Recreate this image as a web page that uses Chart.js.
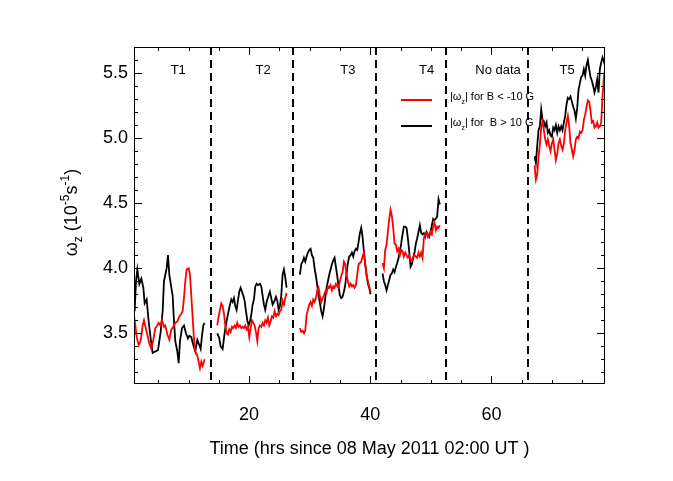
<!DOCTYPE html>
<html>
<head>
<meta charset="utf-8">
<script src="https://cdn.jsdelivr.net/npm/chart.js@4.4.0/dist/chart.umd.min.js"></script>
<style>
  html, body { margin: 0; padding: 0; background: #fff; }
</style>
</head>
<body>
<canvas id="vortChart" width="673" height="481"></canvas>
<script>
// sample times (hours since 08 May 2011 02:00 UT), one array per interval
var hoursT1Black = [1.11, 1.33, 1.55, 1.88, 2.21, 2.54, 2.76, 3.09, 3.42, 3.75, 4.08, 4.52, 4.96, 5.40, 5.73, 5.95, 6.17, 6.39, 6.61, 6.83,
  7.16, 7.38, 7.60, 7.82, 8.15, 8.37, 8.59, 8.92, 9.25, 9.58, 9.91, 10.13, 10.46, 10.79, 11.12, 11.45, 11.78, 12.00, 12.22, 12.44, 12.66];
var hoursT1Red = [1.00, 1.22, 1.44, 1.77, 2.10, 2.43, 2.65, 2.98, 3.20, 3.53, 3.86, 4.19, 4.52, 4.85, 5.07, 5.40, 5.62, 5.95, 6.17, 6.50,
  6.83, 7.16, 7.49, 7.82, 8.15, 8.48, 8.81, 9.03, 9.25, 9.47, 9.69, 10.02, 10.24, 10.46, 10.68, 10.90, 11.12, 11.45, 11.67, 11.89,
  12.11, 12.33, 12.66];
var hoursT2Black = [14.75, 15.08, 15.30, 15.63, 15.85, 16.07, 16.40, 16.62, 16.84, 17.06, 17.28, 17.50, 17.72, 17.94, 18.16, 18.38,
  18.60, 18.82, 19.04, 19.26, 19.48, 19.70, 19.92, 20.14, 20.36, 20.58, 20.80, 21.02, 21.24, 21.46, 21.79, 22.01, 22.23, 22.45,
  22.67, 22.89, 23.22, 23.44, 23.66, 23.88, 24.21, 24.43, 24.65, 24.87, 25.09, 25.31, 25.53, 25.75, 25.97, 26.19];
var hoursT2Red = [14.75, 14.97, 15.19, 15.41, 15.63, 15.85, 16.07, 16.29, 16.51, 16.73, 16.95, 17.17, 17.39, 17.61, 17.83, 18.05,
  18.27, 18.49, 18.71, 18.93, 19.15, 19.37, 19.59, 19.81, 20.03, 20.25, 20.47, 20.69, 20.91, 21.13, 21.35, 21.57, 21.79, 22.01,
  22.23, 22.45, 22.67, 22.89, 23.11, 23.33, 23.55, 23.77, 23.99, 24.21, 24.43, 24.65, 24.87, 25.09, 25.31, 25.53, 25.75, 25.97, 26.19];
var hoursT3 = [28.39, 28.61, 28.83, 29.05, 29.27, 29.49, 29.71, 29.93, 30.15, 30.37, 30.59, 30.81, 31.03, 31.25, 31.47, 31.69,
  31.91, 32.13, 32.35, 32.57, 32.79, 33.01, 33.23, 33.45, 33.67, 33.89, 34.11, 34.33, 34.55, 34.77, 34.99, 35.21, 35.43, 35.65,
  35.87, 36.09, 36.31, 36.53, 36.75, 36.97, 37.19, 37.41, 37.63, 37.85, 38.07, 38.29, 38.51, 38.73, 38.95, 39.17, 39.39, 39.61,
  39.83, 40.05];
var hoursT4 = [42.03, 42.25, 42.47, 42.69, 42.91, 43.13, 43.35, 43.57, 43.79, 44.01, 44.23, 44.45, 44.67, 44.89, 45.11, 45.33,
  45.55, 45.77, 45.99, 46.21, 46.43, 46.65, 46.87, 47.09, 47.31, 47.53, 47.75, 47.97, 48.19, 48.41, 48.63, 48.85, 49.07, 49.29,
  49.51, 49.73, 49.95, 50.17, 50.39, 50.61, 50.83, 51.05, 51.27, 51.49];
var hoursT5 = [67.12, 67.34, 67.56, 67.78, 68.00, 68.22, 68.44, 68.66, 68.88, 69.10, 69.32, 69.54, 69.76, 69.98, 70.20, 70.42,
  70.64, 70.86, 71.08, 71.30, 71.52, 71.74, 71.96, 72.18, 72.40, 72.62, 72.84, 73.06, 73.28, 73.50, 73.72, 73.94, 74.16, 74.38,
  74.60, 74.82, 75.04, 75.26, 75.48, 75.70, 75.92, 76.14, 76.36, 76.58, 76.80, 77.02, 77.24, 77.46, 77.68, 77.90, 78.12, 78.34,
  78.56, 78.78];

// |omega_z| for B > 10 G (black), in 1e-5 s^-1
var blackT1 = [3.67, 3.90, 3.99, 3.88, 3.92, 3.85, 3.73, 3.76, 3.59, 3.46, 3.35, 3.36, 3.37, 3.51, 3.67, 3.90, 3.95, 4.00, 4.10, 3.95,
  3.85, 3.79, 3.59, 3.44, 3.36, 3.27, 3.44, 3.54, 3.56, 3.50, 3.46, 3.48, 3.47, 3.41, 3.36, 3.45, 3.41, 3.38, 3.48, 3.56, 3.58];
var blackT2 = [3.50, 3.46, 3.40, 3.38, 3.46, 3.54, 3.62, 3.67, 3.72, 3.76, 3.74, 3.77, 3.71, 3.68, 3.75, 3.82, 3.85, 3.82, 3.79, 3.75,
  3.67, 3.60, 3.56, 3.59, 3.64, 3.72, 3.76, 3.86, 3.88, 3.87, 3.88, 3.86, 3.79, 3.72, 3.68, 3.74, 3.79, 3.82, 3.77, 3.72,
  3.75, 3.78, 3.75, 3.68, 3.71, 3.79, 3.95, 3.99, 3.93, 3.85];
var blackT3 = [3.95, 4.03, 4.05, 4.08, 4.05, 4.09, 4.12, 4.14, 4.15, 4.10, 4.08, 4.00, 3.94, 3.87, 3.79, 3.73, 3.67, 3.63, 3.69, 3.77,
  3.85, 3.90, 3.95, 3.99, 4.03, 4.06, 4.08, 4.01, 3.94, 3.86, 3.79, 3.77, 3.78, 3.82, 3.87, 3.96, 4.04, 4.09, 4.10, 4.12,
  4.09, 4.13, 4.15, 4.14, 4.20, 4.27, 4.31, 4.24, 4.13, 4.03, 3.95, 3.88, 3.85, 3.80];
var blackT4 = [3.96, 3.90, 3.87, 3.83, 3.87, 3.91, 3.95, 3.96, 3.99, 3.97, 4.01, 4.04, 4.08, 4.13, 4.19, 4.26, 4.32, 4.32, 4.31, 4.23,
  4.13, 4.01, 4.03, 4.08, 4.12, 4.19, 4.23, 4.28, 4.33, 4.27, 4.26, 4.27, 4.24, 4.28, 4.26, 4.24, 4.28, 4.33, 4.38, 4.37,
  4.38, 4.40, 4.53, 4.49];
var blackT5 = [4.86, 4.81, 4.94, 5.06, 5.09, 5.22, 5.14, 5.13, 5.09, 5.12, 5.04, 5.06, 5.02, 5.01, 5.08, 5.06, 5.10, 5.04, 5.09, 5.06,
  5.09, 5.06, 5.12, 5.17, 5.26, 5.31, 5.30, 5.32, 5.28, 5.24, 5.21, 5.15, 5.23, 5.37, 5.42, 5.47, 5.48, 5.53, 5.48, 5.56,
  5.60, 5.53, 5.47, 5.44, 5.40, 5.35, 5.39, 5.45, 5.35, 5.53, 5.58, 5.62, 5.59, 5.55];

// |omega_z| for B < -10 G (red)
var redT1 = [3.64, 3.56, 3.47, 3.41, 3.44, 3.56, 3.60, 3.53, 3.49, 3.42, 3.38, 3.45, 3.54, 3.56, 3.58, 3.56, 3.60, 3.55, 3.56, 3.49,
  3.45, 3.53, 3.55, 3.58, 3.59, 3.63, 3.65, 3.67, 3.77, 3.90, 3.99, 4.00, 3.95, 3.79, 3.62, 3.46, 3.36, 3.33, 3.28, 3.23,
  3.28, 3.25, 3.30];
var redT2 = [3.56, 3.63, 3.68, 3.73, 3.71, 3.65, 3.56, 3.50, 3.49, 3.53, 3.51, 3.55, 3.54, 3.56, 3.54, 3.58, 3.55, 3.56, 3.54, 3.55,
  3.54, 3.56, 3.53, 3.55, 3.47, 3.54, 3.60, 3.58, 3.56, 3.51, 3.44, 3.54, 3.56, 3.55, 3.58, 3.56, 3.60, 3.58, 3.62, 3.56,
  3.59, 3.63, 3.62, 3.67, 3.63, 3.65, 3.64, 3.67, 3.68, 3.75, 3.72, 3.77, 3.81];
var redT3 = [3.54, 3.51, 3.52, 3.50, 3.52, 3.64, 3.68, 3.72, 3.74, 3.71, 3.76, 3.74, 3.77, 3.83, 3.85, 3.78, 3.74, 3.77, 3.79, 3.82,
  3.81, 3.86, 3.85, 3.87, 3.83, 3.86, 3.85, 3.88, 3.86, 3.85, 3.90, 3.94, 3.97, 4.05, 4.03, 3.95, 3.90, 3.86, 3.88, 3.86,
  3.87, 3.85, 3.87, 3.95, 4.03, 4.04, 4.05, 4.09, 4.12, 4.03, 3.94, 3.90, 3.86, 3.82];
var redT4 = [4.04, 4.00, 4.14, 4.18, 4.28, 4.38, 4.45, 4.40, 4.31, 4.19, 4.18, 4.13, 4.15, 4.10, 4.14, 4.13, 4.09, 4.12, 4.10, 4.08,
  4.10, 4.06, 4.06, 4.09, 4.10, 4.09, 4.08, 4.12, 4.09, 4.12, 4.08, 4.23, 4.26, 4.27, 4.24, 4.26, 4.28, 4.26, 4.32, 4.35,
  4.29, 4.32, 4.31, 4.33];
var redT5 = [4.79, 4.68, 4.72, 4.86, 4.95, 5.08, 5.13, 5.06, 4.99, 4.95, 4.99, 4.94, 4.90, 4.96, 4.99, 4.91, 4.83, 4.88, 4.96, 4.99,
  4.94, 4.91, 4.96, 5.06, 5.12, 5.17, 5.09, 4.96, 4.91, 4.86, 4.91, 4.99, 5.01, 5.00, 5.05, 5.04, 5.06, 5.14, 5.18, 5.24,
  5.29, 5.28, 5.21, 5.12, 5.13, 5.08, 5.09, 5.12, 5.08, 5.09, 5.12, 5.32, 5.47, 5.53];

// interval boundaries (dashed lines) and their labels
var boundaryHours = [13.66, 27.2, 40.9, 52.5, 66.0];
var intervalLabels = ['T1', 'T2', 'T3', 'T4', 'No data', 'T5'];
var intervalLabelHours = [8.3, 22.3, 36.3, 49.3, 61.1, 72.5];

var xTickValues = [20, 40, 60];
var yTickValues = [3.5, 4.0, 4.5, 5.0, 5.5];

var fontFamily = "'Liberation Sans', Arial, Helvetica, sans-serif";
Chart.defaults.font.family = fontFamily;
Chart.defaults.color = '#000';

// join the intervals into one series, with a null point at each boundary to break the line
function buildSeries(hourSets, valueSets) {
  var pts = [];
  hourSets.forEach(function (hrs, s) {
    hrs.forEach(function (h, i) { pts.push({ x: h, y: valueSets[s][i] }); });
    if (s < boundaryHours.length) pts.push({ x: boundaryHours[s], y: null });
  });
  return pts;
}

var blackPoints = buildSeries([hoursT1Black, hoursT2Black, hoursT3, hoursT4, hoursT5], [blackT1, blackT2, blackT3, blackT4, blackT5]);
var redPoints = buildSeries([hoursT1Red, hoursT2Red, hoursT3, hoursT4, hoursT5], [redT1, redT2, redT3, redT4, redT5]);

// draws a run of text pieces (normal / sub / superscript) starting at x on the given baseline
function drawPieces(ctx, pieces, startX, baseY) {
  var x = startX;
  pieces.forEach(function (p) {
    ctx.font = p.size + 'px ' + fontFamily;
    ctx.fillText(p.text, x, baseY + p.dy);
    x += ctx.measureText(p.text).width;
  });
}
function piecesWidth(ctx, pieces) {
  var w = 0;
  pieces.forEach(function (p) {
    ctx.font = p.size + 'px ' + fontFamily;
    w += ctx.measureText(p.text).width;
  });
  return w;
}

// frame with inward ticks on all four sides, dashed interval lines, labels, legend, y title
var decorations = {
  id: 'decorations',
  afterDraw: function (chart) {
    var ctx = chart.ctx, a = chart.chartArea, xs = chart.scales.x, ys = chart.scales.y;
    ctx.save();
    ctx.strokeStyle = '#000';
    ctx.fillStyle = '#000';

    // dashed boundaries
    ctx.lineWidth = 2;
    ctx.setLineDash([8, 5]);
    boundaryHours.forEach(function (h) {
      var px = Math.round(xs.getPixelForValue(h));
      ctx.beginPath();
      ctx.moveTo(px, a.top);
      ctx.lineTo(px, a.bottom);
      ctx.stroke();
    });
    ctx.setLineDash([]);

    // frame
    ctx.lineWidth = 1;
    ctx.strokeRect(a.left + 0.5, a.top + 0.5, a.right - a.left - 1, a.bottom - a.top - 1);

    // x ticks (bottom and top)
    ctx.beginPath();
    for (var v = 5; v < xs.max; v += 5) {
      var px = Math.round(xs.getPixelForValue(v)) + 0.5;
      var len = (v % 20 === 0) ? 8 : 4;
      ctx.moveTo(px, a.bottom); ctx.lineTo(px, a.bottom - len);
      ctx.moveTo(px, a.top); ctx.lineTo(px, a.top + len);
    }
    // y ticks (left and right)
    for (var k = 32; k <= 57; k++) {
      var py = Math.round(ys.getPixelForValue(k / 10)) + 0.5;
      var ylen = (k % 5 === 0) ? 8 : 4;
      ctx.moveTo(a.left, py); ctx.lineTo(a.left + ylen, py);
      ctx.moveTo(a.right, py); ctx.lineTo(a.right - ylen, py);
    }
    ctx.stroke();

    // interval labels
    ctx.font = '13px ' + fontFamily;
    ctx.textAlign = 'center';
    ctx.textBaseline = 'middle';
    intervalLabels.forEach(function (lab, i) {
      ctx.fillText(lab, xs.getPixelForValue(intervalLabelHours[i]), a.top + 23);
    });

    // legend
    ctx.textAlign = 'left';
    ctx.textBaseline = 'alphabetic';
    var legendItems = [
      { color: '#ff0000', tail: '| for B < -10 G', y: a.top + 53 },
      { color: '#000000', tail: '| for  B > 10 G', y: a.top + 79 }
    ];
    legendItems.forEach(function (it) {
      ctx.strokeStyle = it.color;
      ctx.lineWidth = 2;
      ctx.beginPath();
      ctx.moveTo(a.left + 267, it.y);
      ctx.lineTo(a.left + 298, it.y);
      ctx.stroke();
      ctx.fillStyle = '#000';
      drawPieces(ctx, [
        { text: '|\u03c9', size: 11, dy: 0 },
        { text: 'z', size: 7, dy: 4 },
        { text: it.tail, size: 11, dy: 0 }
      ], a.left + 316, it.y);
    });
    ctx.restore();

    // y axis title, rotated
    ctx.save();
    ctx.fillStyle = '#000';
    ctx.textAlign = 'left';
    ctx.textBaseline = 'alphabetic';
    var titlePieces = [
      { text: '\u03c9', size: 18, dy: 0 },
      { text: 'z', size: 12, dy: 5 },
      { text: ' (10', size: 18, dy: 0 },
      { text: '-5', size: 12, dy: -8 },
      { text: 's', size: 18, dy: 0 },
      { text: '-1', size: 12, dy: -8 },
      { text: ')', size: 18, dy: 0 }
    ];
    ctx.translate(77, (a.top + a.bottom) / 2 - 3);
    ctx.rotate(-Math.PI / 2);
    drawPieces(ctx, titlePieces, -piecesWidth(ctx, titlePieces) / 2, 0);
    ctx.restore();
  }
};

var ctx = document.getElementById('vortChart').getContext('2d');
var vortChart = new Chart(ctx, {
  type: 'line',
  data: {
    datasets: [
      { label: '|wz| for B < -10 G', data: redPoints, borderColor: '#ff0000', borderWidth: 1.8, pointRadius: 0, spanGaps: false },
      { label: '|wz| for B > 10 G', data: blackPoints, borderColor: '#000000', borderWidth: 1.8, pointRadius: 0, spanGaps: false }
    ]
  },
  options: {
    responsive: false,
    animation: false,
    devicePixelRatio: 1,
    layout: { padding: { top: 47, right: 68, left: 0, bottom: 0 } },
    plugins: { legend: { display: false }, tooltip: { enabled: false } },
    scales: {
      x: {
        type: 'linear',
        min: 1,
        max: 78.75,
        grid: { display: false, drawTicks: false },
        border: { display: false },
        afterBuildTicks: function (s) { s.ticks = xTickValues.map(function (v) { return { value: v }; }); },
        afterFit: function (s) { s.height = 97; },
        ticks: { font: { size: 18 }, padding: 20, maxRotation: 0 },
        title: { display: true, text: 'Time (hrs since 08 May 2011 02:00 UT )', font: { size: 18 }, padding: { top: 0, bottom: 21 } }
      },
      y: {
        min: 3.11,
        max: 5.70,
        grid: { display: false, drawTicks: false },
        border: { display: false },
        afterBuildTicks: function (s) { s.ticks = yTickValues.map(function (v) { return { value: v }; }); },
        afterFit: function (s) { s.width = 134; },
        ticks: { font: { size: 18 }, padding: 6, callback: function (v) { return v.toFixed(1); } }
      }
    }
  },
  plugins: [decorations]
});
</script>
</body>
</html>
